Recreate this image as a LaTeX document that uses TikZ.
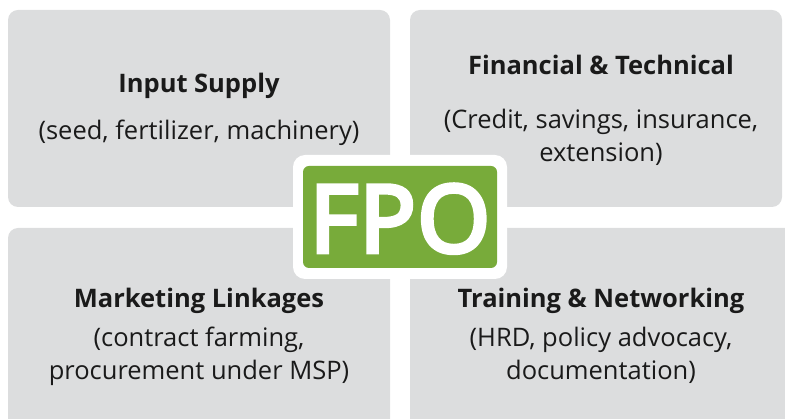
\documentclass[tikz,border=0pt]{standalone}
\usepackage{fontspec}
\setmainfont{Open Sans}
\newfontfamily\fpofont[FakeBold=5, LetterSpace=2]{Open Sans}
\usepackage{xcolor}
\definecolor{boxgrey}{HTML}{DCDDDE}
\definecolor{fpogreen}{HTML}{78AB3A}
\definecolor{ink}{HTML}{1A1A1A}

\begin{document}
\begin{tikzpicture}[x=1pt, y=-1pt,
  panel/.style={fill=boxgrey, rounded corners=10pt},
  title/.style={font=\fontsize{25.5}{30}\selectfont\bfseries, text=ink, anchor=base, inner sep=0pt},
  note/.style={font=\fontsize{25.5}{33}\selectfont, text=ink, anchor=base, inner sep=0pt, align=center}]

\useasboundingbox (0,0) rectangle (785,419);
\clip (0,0) rectangle (785,419);

% Boxes
\fill[panel] (8,10) rectangle (390,207);
\fill[panel] (410,10) rectangle (782,207);
\fill[panel] (8,228) rectangle (390,440);
\fill[panel] (410,228) rectangle (800,440);

% Centre
\fill[white, rounded corners=12pt] (293,155) rectangle (507,279);
\node[fill=fpogreen, rounded corners=6pt, minimum width=194pt, minimum height=102pt, inner sep=0pt] (fpo) at (400,217) {};
\node[font=\fpofont\fontsize{93}{93}\selectfont, text=white, anchor=base, inner sep=0pt] (fpotext) at (400,252) {FPO};

% Labels (notes are placed by their last line)
\node[title] (input) at (199,93) {Input Supply};
\node[note] (inputnote) at (199,140) {(seed, fertilizer, machinery)};

\node[title] (finance) at (601,75) {Financial \& Technical};
\node[note] (financenote) at (601,162) {(Credit, savings, insurance,\\extension)};

\node[title] (market) at (199,308) {Marketing Linkages};
\node[note] (marketnote) at (199,380) {(contract farming,\\procurement under MSP)};

\node[title] (training) at (601,308) {Training \& Networking};
\node[note] (trainingnote) at (601,380) {(HRD, policy advocacy,\\documentation)};
\end{tikzpicture}
\end{document}
